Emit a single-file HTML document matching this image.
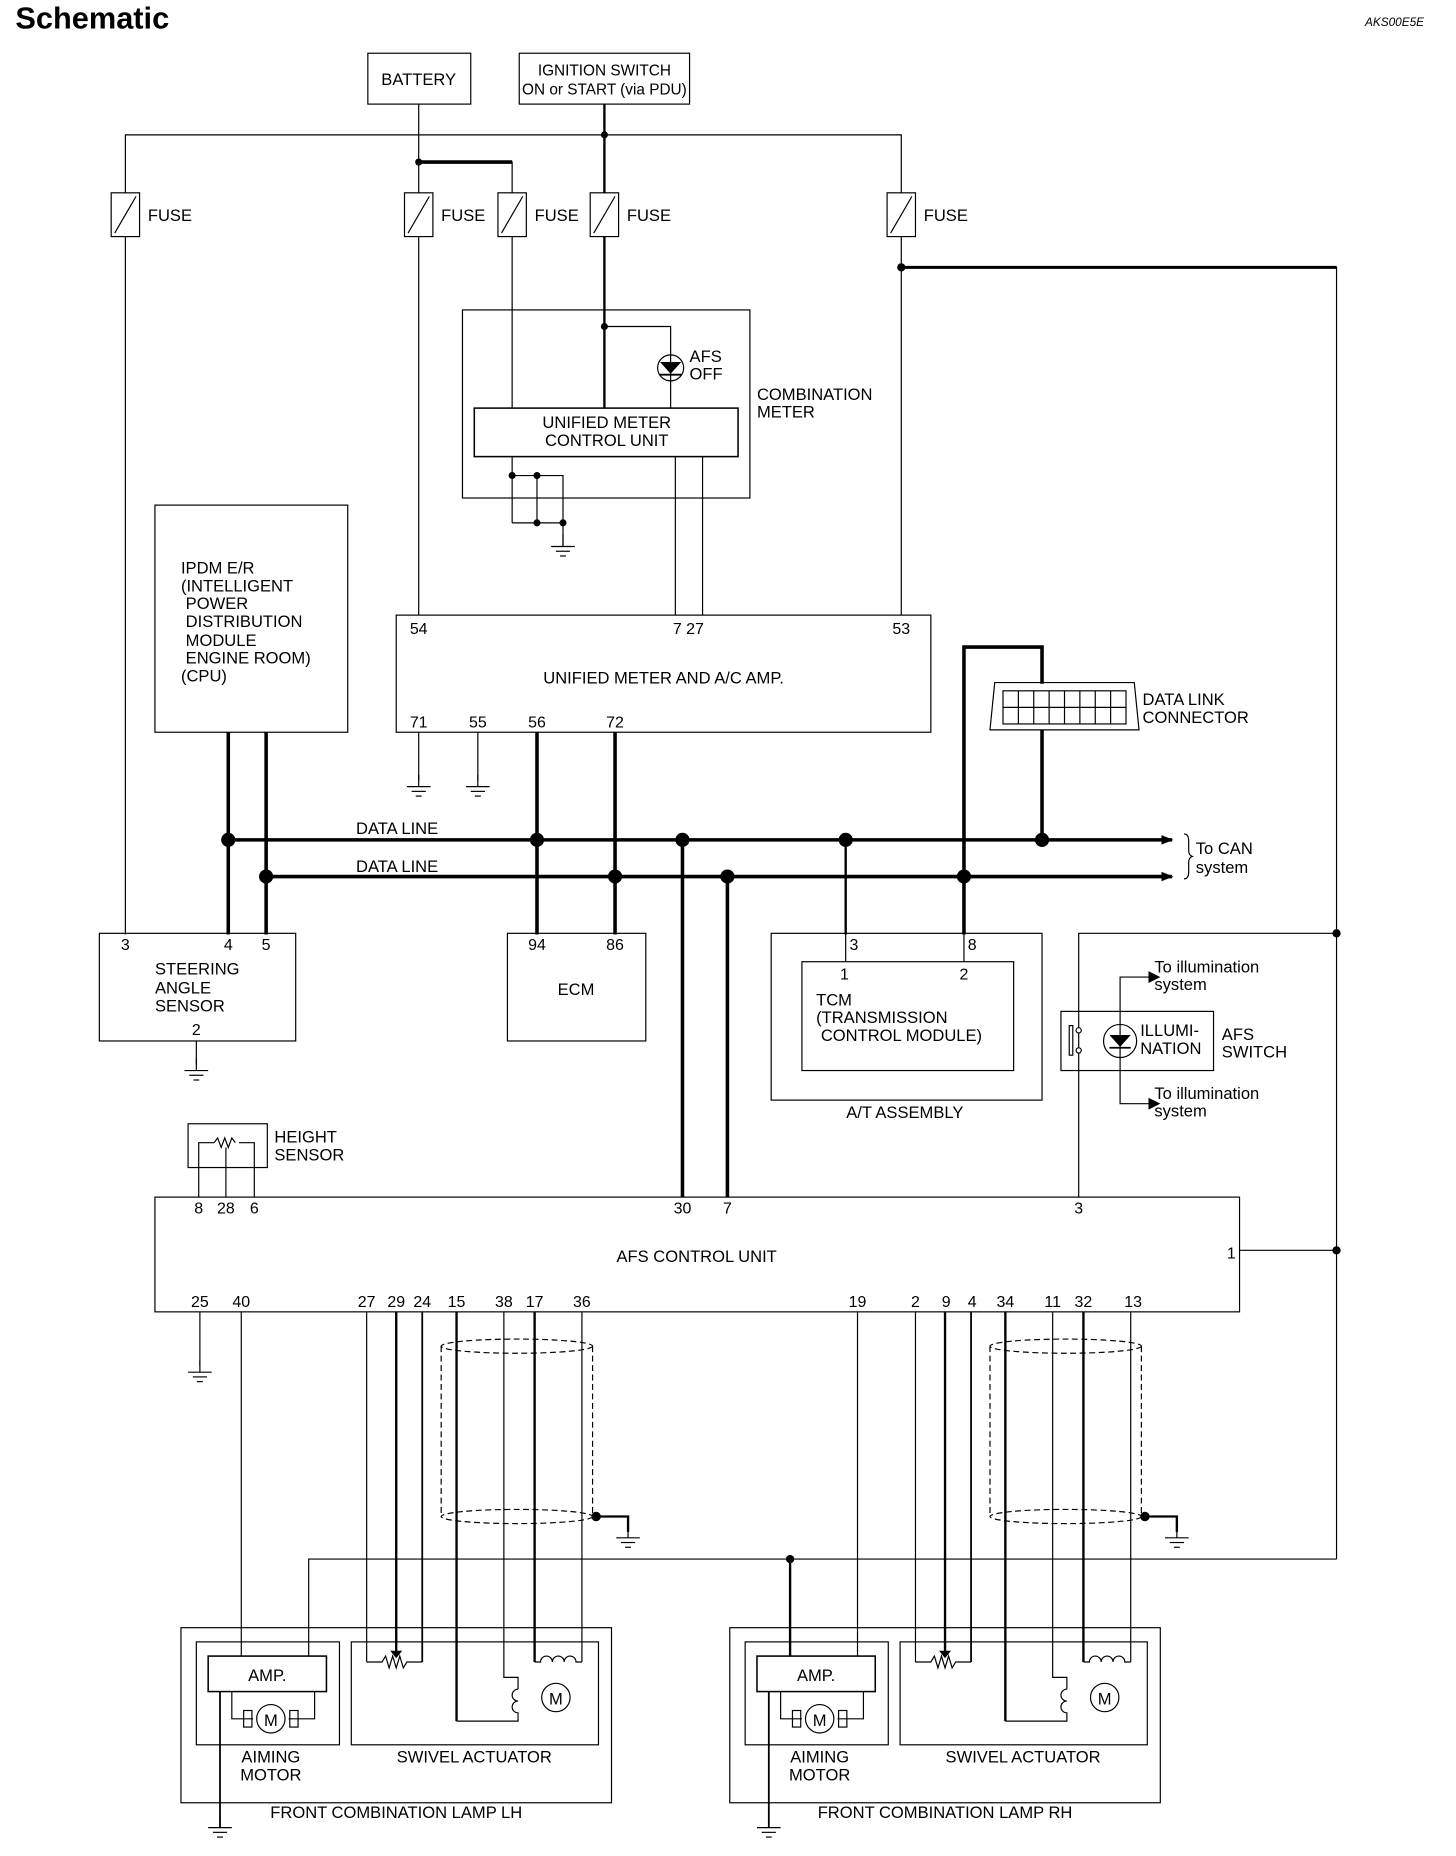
<!DOCTYPE html>
<html><head><meta charset="utf-8"><style>
html,body{margin:0;padding:0;background:#fff}
svg{display:block}
text{font-family:"Liberation Sans",sans-serif;font-size:14px;fill:#000}
.p{font-size:13.5px}
</style></head><body>
<svg width="1456" height="1856" viewBox="-1 0 1231 1569" preserveAspectRatio="none" xmlns="http://www.w3.org/2000/svg">
<defs>
<g id="gnd"><line x1="0" y1="0" x2="0" y2="10" stroke="#000" stroke-width="1"/><line x1="-10" y1="10" x2="10" y2="10" stroke="#000"/><line x1="-6" y1="14" x2="6" y2="14" stroke="#000"/><line x1="-2.5" y1="18" x2="2.5" y2="18" stroke="#000"/></g>
<g id="fuse"><rect x="-12" y="0" width="24" height="37" fill="#fff" stroke="#000"/><line x1="-9" y1="34" x2="9" y2="3" stroke="#000"/></g>
<marker id="ar" markerWidth="10" markerHeight="8" refX="9" refY="4" orient="auto" markerUnits="userSpaceOnUse"><path d="M0,0 L10,4 L0,8 z" fill="#000"/></marker>
</defs>
<text x="12" y="24" style="font-size:26px;font-weight:bold">Schematic</text>
<text x="1203" y="22" text-anchor="end" style="font-size:10px;font-style:italic">AKS00E5E</text>

<g fill="none" stroke="#000" stroke-width="1">
<rect x="310" y="45" width="87" height="43"/>
<rect x="438" y="45" width="144" height="43"/>
<line x1="353" y1="88" x2="353" y2="520"/>
<line x1="510" y1="88" x2="510" y2="345" stroke-width="2"/>
<polyline points="105,790 105,114 761,114 761,520"/>
<polyline points="353,137 432,137 432,345" />
<line x1="353" y1="137" x2="432" y2="137" stroke-width="3"/>
<polyline points="761,226 1129,226 1129,1318" />
<line x1="761" y1="226" x2="1129" y2="226" stroke-width="2.5"/>
<rect x="390" y="262" width="243" height="159"/>
<rect x="400" y="345" width="223" height="41" stroke-width="1.3"/>
<polyline points="510,276 566,276 566,345"/>
<circle cx="566" cy="311" r="11"/>
<line x1="432" y1="386" x2="432" y2="442"/><line x1="453" y1="402" x2="453" y2="442"/>
<polyline points="432,402 475,402 475,462"/><line x1="432" y1="442" x2="475" y2="442"/>
<line x1="570" y1="386" x2="570" y2="520"/><line x1="593" y1="386" x2="593" y2="520"/>
<rect x="334" y="520" width="452" height="99"/>
<line x1="353" y1="619" x2="353" y2="660"/><line x1="403" y1="619" x2="403" y2="660"/>
<rect x="130" y="427" width="163" height="192"/>
<g stroke-width="3">
<line x1="192" y1="619" x2="192" y2="790"/><line x1="224" y1="619" x2="224" y2="790"/>
<line x1="453" y1="619" x2="453" y2="790"/><line x1="519" y1="619" x2="519" y2="790"/>
<line x1="192" y1="710" x2="990" y2="710" marker-end="url(#ar)"/>
<line x1="224" y1="741" x2="990" y2="741" marker-end="url(#ar)"/>
<line x1="576" y1="710" x2="576" y2="1012"/><line x1="614" y1="741" x2="614" y2="1012"/>
<polyline points="814,790 814,547 880,547 880,578"/>
<line x1="880" y1="617" x2="880" y2="710"/>
</g>
<line x1="714" y1="710" x2="714" y2="790" stroke-width="2"/>
<path d="M1000,705 q4,0 4,6 v8 q0,4 3,5 q-3,1 -3,5 v8 q0,6 -4,6"/>
<path d="M840,577 L958,577 L962,617 L836,617 Z"/>
<rect x="847" y="584" width="104" height="28"/>
<line x1="847" y1="598" x2="951" y2="598"/>
<path d="M860,584v28M873,584v28M886,584v28M899,584v28M912,584v28M925,584v28M938,584v28"/>
<rect x="83" y="789" width="166" height="91"/>
<line x1="165" y1="880" x2="165" y2="900"/>
<rect x="428" y="789" width="117" height="91"/>
<rect x="651" y="789" width="229" height="141"/>
<rect x="677" y="813" width="179" height="92"/>
<line x1="714" y1="790" x2="714" y2="813"/><line x1="814" y1="790" x2="814" y2="813"/>
<polyline points="1129,789 911,789 911,1012"/>
<rect x="896" y="855" width="129" height="50"/>
<rect x="903" y="867" width="3" height="25"/>
<circle cx="911" cy="871" r="2.2" fill="#fff"/><circle cx="911" cy="888" r="2.2" fill="#fff"/>
<circle cx="946" cy="880" r="14"/>
<polyline points="970,826 946,826 946,933 970,933"/>
<rect x="158" y="950" width="67" height="37"/>
<polyline points="167,1012 167,966 180,966"/>
<path d="M180,966 l3,-4 l3,8 l3,-8 l3,8 l3,-8 l3,4"/>
<polyline points="201,966 214,966 214,1012"/>
<line x1="190" y1="1012" x2="190" y2="970"/>
<rect x="130" y="1012" width="917" height="97"/>
<line x1="1047" y1="1057" x2="1129" y2="1057"/>
<line x1="168" y1="1109" x2="168" y2="1155"/>
<line x1="203" y1="1109" x2="203" y2="1400"/>
<polyline points="260,1400 260,1318 1129,1318"/>
<line x1="667" y1="1318" x2="667" y2="1400" stroke-width="2"/>
<line x1="724" y1="1109" x2="724" y2="1400"/>
</g>

<g id="grp" fill="none" stroke="#000" stroke-width="1">
<line x1="309" y1="1109" x2="309" y2="1405"/>
<line x1="334" y1="1109" x2="334" y2="1400" stroke-width="2"/>
<line x1="356" y1="1109" x2="356" y2="1405" stroke-width="1.5"/>
<polyline points="309,1405 322,1405 325,1400 328,1410 331,1400 334,1410 337,1400 340,1410 343,1405 356,1405"/>
<path d="M330,1396 h8 l-4,5z" fill="#000"/>
<polyline points="385,1109 385,1455" stroke-width="2"/>
<polyline points="425,1109 425,1418 437,1418 437,1428"/>
<line x1="451" y1="1109" x2="451" y2="1405" stroke-width="2"/>
<line x1="491" y1="1109" x2="491" y2="1405"/>
<path d="M451,1405 h5 a5,5 0 1,1 10,0 a5,5 0 1,1 10,0 a5,5 0 1,1 10,0 h5"/>
<path d="M437,1428 a5,5 0 1,0 0,10 a5,5 0 1,0 0,10 v7 H385" />
<circle cx="469" cy="1435" r="12"/>
<ellipse cx="436" cy="1138" rx="64" ry="6" stroke-dasharray="5,3"/>
<ellipse cx="436" cy="1282" rx="64" ry="6" stroke-dasharray="5,3"/>
<line x1="372" y1="1138" x2="372" y2="1282" stroke-dasharray="5,3"/>
<line x1="500" y1="1138" x2="500" y2="1282" stroke-dasharray="5,3"/>
<polyline points="500,1282 530,1282 530,1295" stroke-width="2"/>
<circle cx="503" cy="1282" r="3.5" fill="#000"/>
<use href="#gnd" x="530" y="1290"/>
<rect x="152" y="1376" width="364" height="148"/>
<rect x="165" y="1388" width="121" height="87"/>
<rect x="175" y="1400" width="100" height="30" stroke-width="1.3"/>
<rect x="296" y="1388" width="209" height="87"/>
<line x1="185" y1="1430" x2="185" y2="1545" stroke-width="1.5"/>
<polyline points="195,1430 195,1453 213,1453"/><polyline points="265,1430 265,1453 243,1453"/>
<rect x="205" y="1446" width="7" height="14"/><rect x="244" y="1446" width="7" height="14"/>
<circle cx="228" cy="1453" r="12"/>
<text x="228" y="1459" text-anchor="middle" stroke="none" style="font-size:14px">M</text>
<text x="469" y="1441" text-anchor="middle" stroke="none" style="font-size:14px">M</text>
<text x="225" y="1421" text-anchor="middle" stroke="none">AMP.</text>
<text x="228" y="1490" text-anchor="middle" stroke="none">AIMING</text>
<text x="228" y="1505" text-anchor="middle" stroke="none">MOTOR</text>
<text x="400" y="1490" text-anchor="middle" stroke="none">SWIVEL ACTUATOR</text>
</g>
<use href="#grp" x="464" y="0"/>
<use href="#gnd" x="185" y="1535"/>
<use href="#gnd" x="649" y="1535"/>
<text x="334" y="1537" text-anchor="middle">FRONT COMBINATION LAMP LH</text>
<text x="798" y="1537" text-anchor="middle">FRONT COMBINATION LAMP RH</text>

<use href="#fuse" x="105" y="163"/><use href="#fuse" x="353" y="163"/><use href="#fuse" x="432" y="163"/><use href="#fuse" x="510" y="163"/><use href="#fuse" x="761" y="163"/>
<text x="124" y="187">FUSE</text><text x="372" y="187">FUSE</text><text x="451" y="187">FUSE</text><text x="529" y="187">FUSE</text><text x="780" y="187">FUSE</text>
<use href="#gnd" x="475" y="452"/><use href="#gnd" x="353" y="655"/><use href="#gnd" x="403" y="655"/><use href="#gnd" x="165" y="895"/><use href="#gnd" x="168" y="1150"/>
<g fill="#000">
<circle cx="510" cy="114" r="3"/><circle cx="353" cy="137" r="3"/><circle cx="761" cy="226" r="3.5"/><circle cx="510" cy="276" r="3"/>
<circle cx="432" cy="402" r="3"/><circle cx="453" cy="402" r="3"/><circle cx="453" cy="442" r="3"/><circle cx="475" cy="442" r="3"/>
<circle cx="192" cy="710" r="6"/><circle cx="453" cy="710" r="6"/><circle cx="576" cy="710" r="6"/><circle cx="714" cy="710" r="6"/><circle cx="880" cy="710" r="6"/>
<circle cx="224" cy="741" r="6"/><circle cx="519" cy="741" r="6"/><circle cx="614" cy="741" r="6"/><circle cx="814" cy="741" r="6"/>
<circle cx="1129" cy="789" r="3.5"/><circle cx="1129" cy="1057" r="3.5"/><circle cx="667" cy="1318" r="3.5"/>
<path d="M557,306 h18 l-9,10z M557,316 h18 v1.5 h-18z"/>
<path d="M937,875 h18 l-9,10z M937,885 h18 v1.5 h-18z"/>
</g>
<path d="M970,821 l10,5 l-10,5z M970,928 l10,5 l-10,5z" fill="#000"/>

<text x="353" y="72" text-anchor="middle">BATTERY</text>
<text x="510" y="64" text-anchor="middle" style="font-size:13px">IGNITION SWITCH</text>
<text x="510" y="80" text-anchor="middle" style="font-size:13px">ON or START (via PDU)</text>
<text x="582" y="306">AFS</text><text x="582" y="321">OFF</text>
<text x="639" y="338">COMBINATION</text><text x="639" y="353">METER</text>
<text x="512" y="362" text-anchor="middle">UNIFIED METER</text><text x="512" y="377" text-anchor="middle">CONTROL UNIT</text>
<text x="152" y="485">IPDM E/R</text><text x="152" y="500">(INTELLIGENT</text><text x="156" y="515">POWER</text><text x="156" y="530">DISTRIBUTION</text><text x="156" y="546">MODULE</text><text x="156" y="561">ENGINE ROOM)</text><text x="152" y="576">(CPU)</text>
<text class="p" x="353" y="536" text-anchor="middle">54</text><text class="p" x="581" y="536" text-anchor="middle">7 27</text><text class="p" x="761" y="536" text-anchor="middle">53</text>
<text x="560" y="578" text-anchor="middle">UNIFIED METER AND A/C AMP.</text>
<text class="p" x="353" y="615" text-anchor="middle">71</text><text class="p" x="403" y="615" text-anchor="middle">55</text><text class="p" x="453" y="615" text-anchor="middle">56</text><text class="p" x="519" y="615" text-anchor="middle">72</text>
<text x="965" y="596">DATA LINK</text><text x="965" y="611">CONNECTOR</text>
<text x="300" y="705">DATA LINE</text><text x="300" y="737">DATA LINE</text>
<text x="1010" y="722">To CAN</text><text x="1010" y="738">system</text>
<text class="p" x="105" y="803" text-anchor="middle">3</text><text class="p" x="192" y="803" text-anchor="middle">4</text><text class="p" x="224" y="803" text-anchor="middle">5</text>
<text x="130" y="824">STEERING</text><text x="130" y="840">ANGLE</text><text x="130" y="855">SENSOR</text>
<text class="p" x="165" y="875" text-anchor="middle">2</text>
<text class="p" x="453" y="803" text-anchor="middle">94</text><text class="p" x="519" y="803" text-anchor="middle">86</text>
<text x="486" y="841" text-anchor="middle">ECM</text>
<text class="p" x="721" y="803" text-anchor="middle">3</text><text class="p" x="821" y="803" text-anchor="middle">8</text>
<text class="p" x="713" y="828" text-anchor="middle">1</text><text class="p" x="814" y="828" text-anchor="middle">2</text>
<text x="689" y="850">TCM</text><text x="689" y="865">(TRANSMISSION</text><text x="693" y="880">CONTROL MODULE)</text>
<text x="764" y="945" text-anchor="middle">A/T ASSEMBLY</text>
<text x="975" y="822">To illumination</text><text x="975" y="837">system</text>
<text x="975" y="929">To illumination</text><text x="975" y="944">system</text>
<text x="963" y="876">ILLUMI-</text><text x="963" y="891">NATION</text>
<text x="1032" y="879">AFS</text><text x="1032" y="894">SWITCH</text>
<text x="231" y="966">HEIGHT</text><text x="231" y="981">SENSOR</text>
<text class="p" x="167" y="1026" text-anchor="middle">8</text><text class="p" x="190" y="1026" text-anchor="middle">28</text><text class="p" x="214" y="1026" text-anchor="middle">6</text>
<text class="p" x="576" y="1026" text-anchor="middle">30</text><text class="p" x="614" y="1026" text-anchor="middle">7</text><text class="p" x="911" y="1026" text-anchor="middle">3</text>
<text x="588" y="1067" text-anchor="middle">AFS CONTROL UNIT</text>
<text class="p" x="1040" y="1064" text-anchor="middle">1</text>
<text class="p" x="168" y="1105" text-anchor="middle">25</text><text class="p" x="203" y="1105" text-anchor="middle">40</text><text class="p" x="309" y="1105" text-anchor="middle">27</text><text class="p" x="334" y="1105" text-anchor="middle">29</text><text class="p" x="356" y="1105" text-anchor="middle">24</text><text class="p" x="385" y="1105" text-anchor="middle">15</text><text class="p" x="425" y="1105" text-anchor="middle">38</text><text class="p" x="451" y="1105" text-anchor="middle">17</text><text class="p" x="491" y="1105" text-anchor="middle">36</text>
<text class="p" x="724" y="1105" text-anchor="middle">19</text><text class="p" x="773" y="1105" text-anchor="middle">2</text><text class="p" x="799" y="1105" text-anchor="middle">9</text><text class="p" x="821" y="1105" text-anchor="middle">4</text><text class="p" x="849" y="1105" text-anchor="middle">34</text><text class="p" x="889" y="1105" text-anchor="middle">11</text><text class="p" x="915" y="1105" text-anchor="middle">32</text><text class="p" x="957" y="1105" text-anchor="middle">13</text>
</svg>
</body></html>
